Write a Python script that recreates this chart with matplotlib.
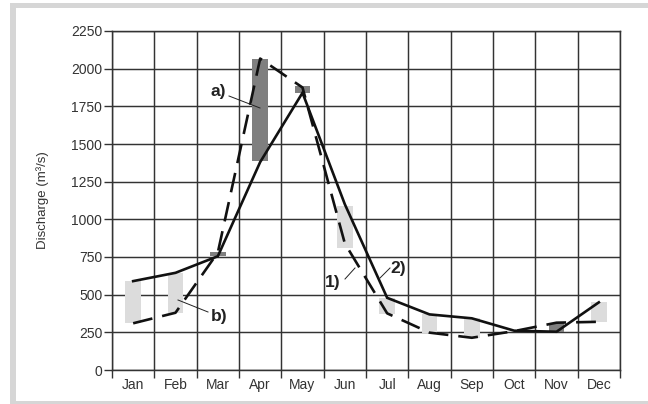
import matplotlib
matplotlib.use("Agg")
import matplotlib.pyplot as plt
from matplotlib.patches import Rectangle
import numpy as np

plt.rcParams['font.family'] = ['Liberation Sans', 'DejaVu Sans']

months = ["Jan", "Feb", "Mar", "Apr", "May", "Jun", "Jul", "Aug", "Sep", "Oct", "Nov", "Dec"]
# series 1) dashed, series 2) solid
series1 = [310, 380, 780, 2067, 1875, 840, 376, 248, 214, 258, 314, 320]
series2 = [590, 645, 755, 1380, 1840, 1100, 479, 369, 343, 261, 254, 449]
# range bars between the two estimates
bar_low = [313, 380, 756, 1388, 1841, 807, 369, 248, 214, 259, 254, 320]
bar_high = [592, 645, 785, 2062, 1883, 1090, 477, 369, 343, 261, 314, 449]
yticks = [0, 250, 500, 750, 1000, 1250, 1500, 1750, 2000, 2250]

W, H = 648, 404
fig = plt.figure(figsize=(W / 100, H / 100), dpi=100)

# outer frame
fig.patches.append(Rectangle((10 / W, 0), 1, 1 - 3 / H, transform=fig.transFigure,
                             facecolor="#d6d6d6", edgecolor="none", zorder=-10))
fig.patches.append(Rectangle((16 / W, 3 / H), 1, 1 - 11 / H, transform=fig.transFigure,
                             facecolor="white", edgecolor="none", zorder=-9))

ax = fig.add_axes([112 / W, 1 - 370 / H, (620 - 112) / W, (370 - 31) / H])
ax.set_facecolor("white")

x = np.arange(len(months)) + 0.5

# grid
for gx in range(0, 13):
    ax.axvline(gx, color="#333333", lw=1.05, zorder=0)
for gy in yticks:
    ax.axhline(gy, color="#333333", lw=1.05, zorder=0)

# bars
for i in range(len(months)):
    col = "#7f7f7f" if series1[i] > series2[i] else "#dcdcdc"
    ax.bar(x[i], bar_high[i] - bar_low[i], bottom=bar_low[i], width=0.37,
           color=col, edgecolor="none", zorder=2)

ax.plot(x, series2, color="#111111", lw=1.9, zorder=3, solid_joinstyle="miter")
ax.plot(x, series1, color="#111111", lw=1.9, zorder=3, linestyle=(0, (7.5, 3.8)))

ax.set_xlim(0, 12)
ax.set_ylim(0, 2250)
ax.set_yticks(yticks)
ax.set_yticklabels([str(v) for v in yticks])
ax.set_xticks(np.arange(0, 13))
ax.set_xticklabels([])
ax.set_xticks(x, minor=True)
ax.set_xticklabels(months, minor=True)
ax.tick_params(axis="x", which="minor", length=0, pad=6, labelsize=10, labelcolor="#333333")
ax.tick_params(axis="x", which="major", length=6, width=1.0, color="#333333", direction="out")
ax.tick_params(axis="y", length=6, width=1.0, color="#333333", labelsize=10,
               labelcolor="#333333", pad=1)
for s in ax.spines.values():
    s.set_color("#333333")
    s.set_linewidth(1.05)

ax.set_ylabel("Discharge (m³/s)", fontsize=9.5, color="#333333", labelpad=16)

# annotations
def data_from_px(px, py):
    return ax.transData.inverted().transform(fig.transFigure.transform((px / W, 1 - py / H)))

def label(text, tx, ty, l0, l1):
    p = data_from_px(tx, ty)
    ax.text(p[0], p[1], text, fontsize=12.5, fontweight="bold", color="#222222",
            ha="center", va="center", zorder=5)
    a = data_from_px(*l0)
    b = data_from_px(*l1)
    ax.plot([a[0], b[0]], [a[1], b[1]], color="#222222", lw=0.7, zorder=5)

label("a)", 218, 92, (229, 96), (260, 108))
label("b)", 219, 316, (178, 300), (208, 312))
label("1)", 333, 283, (345, 279), (355, 268))
label("2)", 398, 268, (380, 278), (390, 268))

fig.savefig("out.png", dpi=100)
